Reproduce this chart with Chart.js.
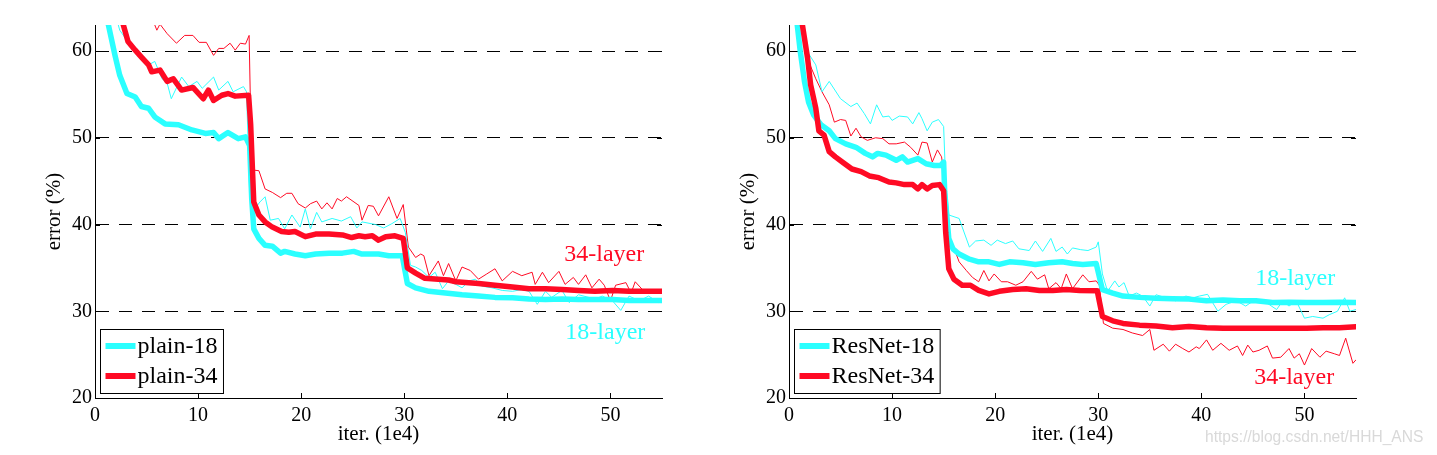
<!DOCTYPE html>
<html>
<head>
<meta charset="utf-8">
<title>Training on ImageNet: plain vs ResNet</title>
<script src="https://cdn.jsdelivr.net/npm/chart.js@4.4.1/dist/chart.umd.min.js"></script>
<style>
  html, body { margin: 0; padding: 0; background: #fff; }
  body { width: 1437px; height: 455px; position: relative; overflow: hidden; }
  .panel { position: absolute; top: 0; width: 700px; height: 455px; }
  #leftPanel { left: 0; }
  #rightPanel { left: 694px; }
  .mark {
    position: absolute; left: 1205px; top: 428px;
    font: 15.6px "Liberation Sans", Arial, sans-serif; color: #d9d9d9;
    white-space: nowrap;
  }
</style>
</head>
<body>
<div class="panel" id="leftPanel"><canvas id="plainChart" width="700" height="455"></canvas></div>
<div class="panel" id="rightPanel"><canvas id="resChart" width="700" height="455"></canvas></div>
<div class="mark">https://blog.csdn.net/HHH_ANS</div>
<script>
// axes
var xTicks = [0, 10, 20, 30, 40, 50];
var yTicks = [20, 30, 40, 50, 60];
var xMax = 55, yMin = 20, yMax = 63;

// [iter (1e4), error %]
// thin = training error, thick = validation error
var plain18Train = [[1.8,65],[2.4,62.4],[4.0,59.7],[5.2,58.4],[5.8,58.8],[6.5,56.8],[7.0,56.3],[7.4,54.5],[8.4,57.0],[9.1,55.9],[9.9,56.5],[10.4,55.7],[11.5,57.0],[12.0,55.5],[12.9,56.5],[13.4,55.3],[14.4,55.9],[14.7,55.3],[15.0,43.7],[15.5,41.8],[16.0,42.6],[16.5,43.2],[17.0,40.5],[17.8,40.7],[18.4,39.5],[19.1,41.1],[19.9,39.7],[20.4,41.8],[20.9,39.5],[21.5,41.4],[22,40.3],[23,40.7],[23.9,40.4],[24.8,40.9],[25.4,39.6],[25.9,40.3],[27.2,40.0],[28,39.6],[28.8,40.1],[29.6,40.7],[30.1,39.1],[30.6,35.3],[31.1,35.1],[31.7,34.7],[32.4,33.9],[33,34.5],[33.7,32.6],[34.3,33.5],[35,33.1],[35.6,32.7],[36.3,33.5],[36.9,33.7],[37.5,32.9],[38.5,32.7],[39.5,32.4],[40.5,32.3],[41.4,32.5],[42.1,32.3],[42.9,30.8],[43.7,32.3],[44.3,31.6],[45.3,32.4],[46,31.0],[46.9,31.9],[47.9,31.6],[48.5,31.4],[49.2,31.75],[50.2,31.2],[51,30.1],[51.8,31.75],[52.8,31.2],[53.7,31.75],[54.7,31.0],[55,31.25]];
var plain18Val = [[0.9,65.5],[1.3,63],[1.94,59.5],[2.4,57.2],[3.1,55.1],[3.9,54.7],[4.5,53.6],[5.2,53.4],[5.8,52.4],[6.8,51.6],[8.1,51.5],[9.4,50.9],[10.7,50.5],[11.5,50.6],[12.0,49.9],[12.9,50.6],[13.9,49.9],[14.6,50.1],[15.0,49.1],[15.2,43],[15.4,39.5],[15.9,38.4],[16.5,37.6],[17.2,37.5],[18,36.7],[18.4,36.9],[19.4,36.6],[20.4,36.4],[21.4,36.6],[22.7,36.7],[24,36.7],[25.1,36.9],[25.9,36.6],[27.5,36.6],[28.5,36.4],[29.8,36.4],[30.3,33.2],[31.1,32.7],[32.4,32.3],[34,32.1],[35.6,31.9],[37.2,31.75],[38.8,31.6],[40.5,31.55],[42.1,31.4],[43.7,31.35],[45.3,31.4],[46.9,31.35],[48.5,31.35],[50.2,31.35],[51.8,31.25],[53.4,31.25],[55,31.25]];
var plain34Train = [[5.6,63.6],[6,62.4],[6.3,63.1],[7.0,62.0],[7.9,60.9],[8.7,61.8],[9.5,61.8],[10.1,61.0],[10.8,61.0],[11.5,59.5],[12,60.3],[12.5,60.3],[13.1,60.9],[13.6,60.1],[14.1,60.9],[14.6,60.8],[14.95,61.8],[15.2,46.3],[15.9,46.2],[16.5,44.1],[17.2,43.7],[18,43.1],[18.6,43.6],[19.1,43.6],[19.7,42.4],[20.4,41.9],[20.9,42.4],[21.5,42.7],[22,41.8],[22.5,42.5],[23,41.8],[23.5,43],[23.9,42.7],[24.4,43.2],[25.6,42.2],[25.9,40.5],[26.5,42.2],[27,42.1],[27.5,41.0],[28.5,43.2],[29.3,40.7],[29.9,42.3],[30.4,37.4],[31.1,36.2],[31.6,36.6],[31.9,36.4],[32.4,34.1],[33.3,35.8],[33.8,34.1],[34.3,35.5],[35,33.5],[35.6,35.1],[36.4,34.7],[37.2,33.7],[38,34.3],[38.8,34.9],[39.5,33.5],[40.5,34.6],[41.4,34.1],[42.4,34.5],[42.7,33.1],[43.4,34.5],[44.0,33.3],[45,34.6],[45.6,33.1],[46.4,33.9],[46.9,33.1],[47.6,34.2],[48.2,32.7],[48.9,33.7],[49.4,33.0],[50,31.2],[50.5,33.0],[51.5,33.3],[52,32.1],[52.4,33.4],[53.1,32.5],[53.7,32.3],[55,32.3]];
var plain34Val = [[2.3,65],[2.75,63],[3.2,61.1],[3.9,60.1],[4.5,59.3],[5.2,58.4],[5.5,57.6],[6.3,57.8],[7.0,56.5],[7.6,56.8],[8.4,55.5],[9.5,55.8],[10.5,54.5],[11,55.5],[11.5,54.3],[12.3,54.9],[12.9,55.1],[13.6,54.8],[14.9,54.9],[15.1,51.5],[15.4,42.6],[15.9,41.1],[16.5,40.3],[17.2,39.7],[18.1,39.2],[18.8,39.1],[19.4,39.2],[20.4,38.6],[21.4,38.9],[22.7,38.9],[24,38.8],[24.9,38.5],[25.6,38.7],[26.2,38.6],[26.9,38.7],[27.5,38.2],[28.2,38.6],[29.1,38.7],[29.9,38.4],[30.3,35.0],[31.1,34.4],[32.0,33.8],[33.3,33.7],[34.3,33.6],[35,33.4],[37.2,33.2],[38.8,33.0],[40.5,32.8],[42.1,32.6],[43.7,32.6],[45.3,32.5],[46.9,32.4],[48.5,32.3],[50.2,32.4],[51.8,32.3],[53.7,32.3],[55,32.3]];

var res18Train = [[1.0,65],[1.3,62.2],[1.9,59.7],[2.6,58.4],[3.2,55.3],[3.9,56.5],[5,54.5],[6,53.6],[6.6,54.0],[7.3,52.8],[7.9,51.6],[8.5,53.8],[9.1,52.4],[9.7,52.5],[10,52.0],[10.7,52.5],[11.5,52.4],[12,51.6],[12.6,52.9],[12.9,52.2],[13.4,50.8],[13.9,51.8],[14.5,52.1],[15,51.3],[15.2,44.9],[15.5,41.1],[16.5,40.7],[17.5,37.4],[18.1,38.1],[18.9,38.2],[19.6,37.6],[20.2,38.2],[21,37.8],[21.7,38.1],[22.3,37.2],[23.3,37.0],[23.9,38.1],[24.6,36.9],[25.4,38.4],[25.9,36.9],[26.5,37.4],[27,36.6],[27.5,37.3],[28.3,37.1],[29,37.0],[29.8,37.4],[30.0,38.0],[30.4,34.3],[30.9,32.3],[31.6,33.5],[32.0,32.8],[32.5,33.3],[33,31.75],[33.7,32.1],[34.3,31.75],[35,30.6],[35.6,31.9],[36.6,31.55],[37.5,31.2],[38.5,31.75],[39.2,31.55],[39.8,31.75],[40.6,31.95],[41.6,30.0],[42.4,30.8],[43.4,31.2],[44.3,30.6],[45.3,31.4],[46.3,31.0],[47.3,30.2],[47.9,31.2],[48.5,30.6],[49.2,31.2],[50,29.2],[50.8,29.4],[51.8,29.2],[52.4,29.6],[53.2,30.0],[53.9,31.55],[54.4,30.0],[55,30.2]];
var res18Val = [[0.5,66],[0.8,63],[1.1,59.9],[1.5,56.5],[1.9,54.1],[2.4,52.6],[3.1,51.5],[3.9,50.8],[4.5,49.9],[5.5,49.3],[6.5,48.9],[7.4,48.2],[8.1,47.8],[8.6,48.2],[9.4,48.0],[10.4,47.4],[11,47.8],[11.5,47.2],[12.5,47.6],[13.3,47.0],[14.1,46.8],[14.7,46.8],[15,47.2],[15.1,43.8],[15.5,38.4],[15.9,37.2],[16.5,36.6],[17.5,36.0],[18.4,35.7],[19.4,35.7],[20.4,35.4],[21.4,35.7],[22.7,35.6],[23.9,35.4],[25.2,35.6],[26.5,35.7],[27.5,35.5],[28.5,35.4],[29.8,35.5],[30.4,32.5],[31.4,32.1],[32.4,31.75],[34,31.6],[35.6,31.5],[37.2,31.45],[38.8,31.4],[40.5,31.2],[42.1,31.3],[43.7,31.2],[45.3,31.2],[46.9,31.0],[48.5,31.05],[50.2,31.0],[51.8,31.0],[53.4,31.05],[55,31.0]];
var res34Train = [[1.2,65],[1.5,61.8],[1.9,58.8],[2.6,56.8],[3.2,55.3],[3.9,53.8],[4.4,51.8],[5,52.1],[5.5,52.0],[6,50.2],[6.5,51.1],[7,50.1],[7.6,49.7],[8.4,50.0],[9.1,49.9],[9.7,49.3],[10.4,49.3],[11.2,49.5],[11.8,48.9],[12.5,48.0],[12.9,49.5],[13.4,49.4],[13.9,47.2],[14.4,48.6],[14.8,47.8],[15,46.1],[15.2,39.1],[15.5,37.6],[16,37.3],[16.5,35.7],[17.2,34.7],[17.8,33.9],[18.4,33.4],[18.9,34.7],[19.4,33.5],[19.9,34.3],[20.6,33.4],[21.2,33.4],[22,33.0],[22.7,33.4],[23.5,34.6],[24.1,33.7],[24.8,34.2],[25.2,32.6],[25.9,33.3],[26.4,32.6],[26.9,34.3],[27.5,32.6],[28.5,34.2],[29.1,33.4],[29.8,33.5],[30.1,33.0],[30.5,28.6],[31.4,28.05],[32.4,27.9],[33.3,27.5],[34.3,27.2],[35,27.9],[35.4,25.5],[36.3,26.2],[36.9,25.4],[37.5,26.2],[38.2,25.7],[38.8,25.3],[39.5,25.9],[39.8,25.7],[40.5,26.7],[41.1,25.5],[41.9,26.3],[42.7,25.5],[43.5,26.0],[44,24.9],[44.5,26.1],[45,25.3],[45.6,25.5],[46.4,26.0],[46.9,24.6],[47.7,24.7],[48.5,25.7],[49,24.6],[49.5,25.1],[50,23.8],[50.7,25.7],[51.5,24.7],[52.1,25.4],[52.9,25.1],[53.4,24.9],[54.0,26.9],[54.7,24.0],[55,24.4]];
var res34Val = [[1.0,66],[1.3,63],[1.8,59.2],[2.1,56.1],[2.6,53.4],[2.9,50.8],[3.4,50.3],[3.9,48.4],[4.5,47.8],[5.3,47.1],[6.1,46.4],[7.0,46.1],[7.8,45.6],[8.7,45.4],[9.7,44.9],[10.4,44.8],[11.2,44.6],[12,44.6],[12.5,44.1],[12.9,44.6],[13.4,44.1],[13.9,44.5],[14.6,44.6],[15,43.9],[15.2,39.1],[15.5,34.9],[16,33.7],[16.8,33.0],[17.6,33.0],[18.4,32.4],[19.4,32.0],[20.4,32.3],[21.7,32.5],[23,32.6],[24.3,32.4],[25.6,32.4],[26.9,32.5],[28.2,32.4],[29.9,32.35],[30.4,29.4],[31.4,28.9],[32.4,28.6],[34,28.4],[35.6,28.3],[37.2,28.1],[38.8,28.25],[40.5,28.1],[42.1,28.05],[43.7,28.05],[45.3,28.05],[46.9,28.05],[48.5,28.05],[50.2,28.05],[51.8,28.1],[53.4,28.1],[55,28.2]];

var CYAN = '#2bffff';
var RED = '#ff0a24';
var SERIF = "'Liberation Serif', 'Times New Roman', serif";

Chart.defaults.font.family = SERIF;
Chart.defaults.font.size = 20;
Chart.defaults.color = '#000';

function toXY(pairs) {
    return pairs.map(function (p) { return { x: p[0], y: p[1] }; });
}

function line(label, pairs, color, thick) {
    return {
        label: label,
        data: toXY(pairs),
        borderColor: color,
        backgroundColor: color,
        borderWidth: thick ? 5.5 : 1,
        borderJoinStyle: 'round',
        borderCapStyle: 'round',
        pointRadius: 0,
        tension: 0,
        clip: 0,
        order: thick ? (color === RED ? 0 : 1) : 2,
        inLegend: thick
    };
}

// legend box in the lower left corner + curve labels + inward tick marks
var decorPlugin = {
    id: 'decor',
    afterDraw: function (chart, args, opts) {
        var c = chart.ctx, a = chart.chartArea;
        var xs = chart.scales.x, ys = chart.scales.y;
        c.save();
        c.strokeStyle = '#000';
        c.lineWidth = 1;
        c.beginPath();
        yTicks.forEach(function (v) {
            var py = Math.round(ys.getPixelForValue(v)) + 0.5;
            c.moveTo(a.left, py); c.lineTo(a.left + 5, py);
            c.moveTo(a.right, py); c.lineTo(a.right - 5, py);
        });
        xTicks.forEach(function (v) {
            var px = Math.round(xs.getPixelForValue(v)) + 0.5;
            c.moveTo(px, a.bottom); c.lineTo(px, a.bottom - 5);
        });
        c.stroke();

        // legend
        var items = chart.data.datasets.filter(function (d) { return d.inLegend; });
        c.font = '24px ' + SERIF;
        var tw = 0;
        items.forEach(function (d) { tw = Math.max(tw, c.measureText(d.label).width); });
        var bx = a.left + 5.5, by = 329.5, bw = 37 + tw + 6, bh = 64;
        c.fillStyle = '#fff';
        c.fillRect(bx, by, bw, bh);
        c.strokeRect(bx, by, bw, bh);
        c.textBaseline = 'middle';
        items.forEach(function (d, i) {
            var ly = 346 + i * 30;
            c.strokeStyle = d.borderColor;
            c.lineWidth = 6;
            c.beginPath();
            c.moveTo(bx + 5, ly); c.lineTo(bx + 35, ly);
            c.stroke();
            c.fillStyle = '#000';
            c.fillText(d.label, bx + 37, ly + 1);
        });

        // curve labels
        c.textAlign = 'center';
        opts.notes.forEach(function (n) {
            c.fillStyle = n.color;
            c.fillText(n.text, xs.getPixelForValue(n.x), ys.getPixelForValue(n.y));
        });
        c.restore();
    }
};

function makeChart(id, datasets, notes) {
    return new Chart(document.getElementById(id), {
        type: 'line',
        data: { datasets: datasets },
        plugins: [decorPlugin],
        options: {
            responsive: false,
            animation: false,
            layout: { padding: { top: 25, right: 38, left: 0, bottom: 0 } },
            plugins: {
                legend: { display: false },
                tooltip: { enabled: false },
                decor: { notes: notes }
            },
            scales: {
                x: {
                    type: 'linear',
                    min: 0,
                    max: xMax,
                    afterBuildTicks: function (s) { s.ticks = xTicks.map(function (v) { return { value: v }; }); },
                    afterFit: function (s) { s.height = 57; },
                    grid: { display: false, drawTicks: false },
                    border: { display: true, color: '#000', width: 1 },
                    ticks: { padding: 6, maxRotation: 0, color: '#000' },
                    title: { display: true, text: 'iter. (1e4)', font: { size: 21 }, padding: { top: 0, bottom: 8 }, color: '#000' }
                },
                y: {
                    type: 'linear',
                    min: yMin,
                    max: yMax,
                    afterBuildTicks: function (s) { s.ticks = yTicks.map(function (v) { return { value: v }; }); },
                    afterFit: function (s) { s.width = 95; },
                    grid: {
                        drawTicks: false,
                        lineWidth: 1,
                        color: function (ctx) { return ctx.tick && ctx.tick.value === yMin ? 'rgba(0,0,0,0)' : '#000'; }
                    },
                    border: { display: true, color: '#000', width: 1, dash: [13, 10] },
                    ticks: { padding: 3, color: '#000' },
                    title: { display: true, text: 'error (%)', font: { size: 21 }, padding: { top: 42, bottom: 0 }, color: '#000' }
                }
            }
        }
    });
}

makeChart('plainChart', [
    line('plain-18', plain18Val, CYAN, true),
    line('plain-34', plain34Val, RED, true),
    line('plain-18 train', plain18Train, CYAN, false),
    line('plain-34 train', plain34Train, RED, false)
], [
    { text: '34-layer', x: 49.4, y: 36.5, color: RED },
    { text: '18-layer', x: 49.5, y: 27.5, color: CYAN }
]);

makeChart('resChart', [
    line('ResNet-18', res18Val, CYAN, true),
    line('ResNet-34', res34Val, RED, true),
    line('ResNet-18 train', res18Train, CYAN, false),
    line('ResNet-34 train', res34Train, RED, false)
], [
    { text: '18-layer', x: 49.1, y: 33.8, color: CYAN },
    { text: '34-layer', x: 49.0, y: 22.3, color: RED }
]);
</script>
</body>
</html>
